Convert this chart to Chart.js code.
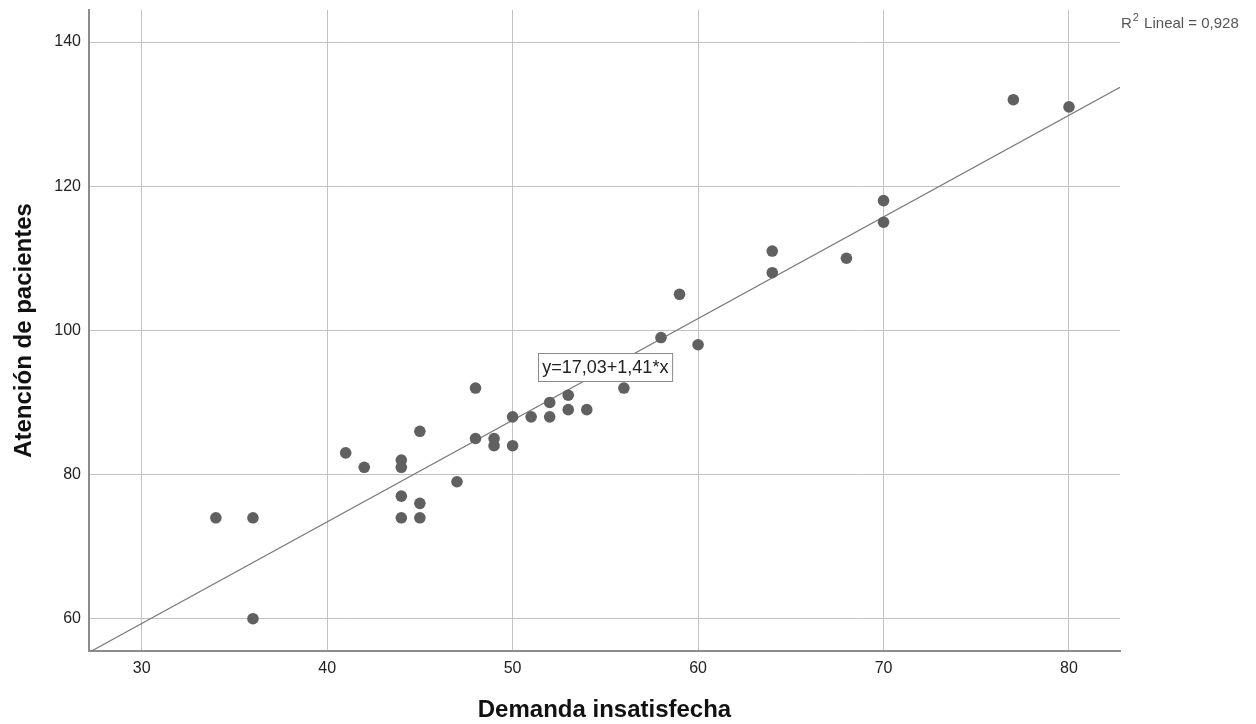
<!DOCTYPE html>
<html>
<head>
<meta charset="utf-8">
<script src="https://cdn.jsdelivr.net/npm/chart.js@4/dist/chart.umd.min.js"></script>
<style>
  html, body { margin: 0; padding: 0; background: #ffffff; }
  #wrap { width: 1256px; height: 724px; position: relative; }
  canvas { display: block; }
</style>
</head>
<body>
<div id="wrap"><canvas id="c" width="1256" height="724"></canvas></div>
<script>
// ---- Data ----
const demanda  = [34,36,36,41,42,44,44,44,44,45,45,45,47,48,48,49,49,50,50,51,52,52,53,53,54,56,58,59,60,64,64,68,70,70,77,80];
const atencion = [74,74,60,83,81,82,81,77,74,86,76,74,79,92,85,85,84,88,84,88,90,88,91,89,89,92,99,105,98,111,108,110,118,115,132,131];
const fitIntercept = 17.03;
const fitSlope = 1.41;
const rSquared = 0.928;
const xTicks = [30,40,50,60,70,80];
const yTicks = [60,80,100,120,140];
const xTitle = 'Demanda insatisfecha';
const yTitle = 'Atención de pacientes';

// axis ranges
const xMin = 27.16, xMax = 82.75;
const yMin = 55.52, yMax = 144.44;

const points = demanda.map((x, i) => ({ x: x, y: atencion[i] }));
const fitLine = [xMin, xMax].map(x => ({ x: x, y: fitIntercept + fitSlope * x }));

const FONT = "'Liberation Sans', Arial, Helvetica, sans-serif";
const fmt = v => v.toFixed(2).replace('.', ',');
const eqText = 'y=' + fmt(fitIntercept) + '+' + fmt(fitSlope) + '*x';
const r2Rest = ' Lineal = ' + rSquared.toFixed(3).replace('.', ',');

const annotations = {
  id: 'annotations',
  afterDraw(chart, args, opts) {
    const ctx = chart.ctx;
    const xs = chart.scales.x, ys = chart.scales.y;
    // equation box
    ctx.save();
    ctx.font = '18px ' + FONT;
    const tw = ctx.measureText(eqText).width;
    const cx = xs.getPixelForValue(opts.eqAt.x);
    const cy = ys.getPixelForValue(opts.eqAt.y);
    const bw = tw + 8, bh = 28;
    const bx = Math.round(cx - bw / 2) + 0.5, by = Math.round(cy - bh / 2) + 0.5;
    ctx.fillStyle = '#ffffff';
    ctx.fillRect(bx, by, bw, bh);
    ctx.strokeStyle = '#8a8a8a';
    ctx.lineWidth = 1;
    ctx.strokeRect(bx, by, bw, bh);
    ctx.fillStyle = '#222222';
    ctx.textAlign = 'center';
    ctx.textBaseline = 'middle';
    ctx.fillText(eqText, cx, by + bh / 2 + 1);
    // R² label with superscript
    ctx.fillStyle = '#555555';
    ctx.textAlign = 'left';
    ctx.textBaseline = 'alphabetic';
    let x0 = chart.chartArea.right + 1;
    const base = 28;
    ctx.font = '15px ' + FONT;
    ctx.fillText('R', x0, base);
    x0 += ctx.measureText('R').width + 1;
    ctx.font = '11px ' + FONT;
    ctx.fillText('2', x0, base - 7);
    x0 += ctx.measureText('2').width + 1;
    ctx.font = '15px ' + FONT;
    ctx.fillText(r2Rest, x0, base);
    ctx.restore();
  }
};

new Chart(document.getElementById('c'), {
  type: 'scatter',
  data: {
    datasets: [
      {
        label: 'Datos',
        data: points,
        pointRadius: 5.8,
        pointHoverRadius: 5.8,
        pointBackgroundColor: '#606060',
        pointBorderWidth: 0,
        showLine: false
      },
      {
        type: 'line',
        label: 'Ajuste',
        data: fitLine,
        borderColor: '#7a7a7a',
        borderWidth: 1.2,
        pointRadius: 0,
        fill: false,
        tension: 0
      }
    ]
  },
  options: {
    responsive: false,
    animation: false,
    devicePixelRatio: 1,
    layout: { padding: { top: 10, right: 136, left: 0, bottom: 0 } },
    plugins: {
      legend: { display: false },
      tooltip: { enabled: false },
      annotations: { eqAt: { x: 55, y: 94.9 } }
    },
    scales: {
      x: {
        type: 'linear',
        min: xMin, max: xMax,
        afterBuildTicks: s => { s.ticks = xTicks.map(v => ({ value: v })); },
        afterFit: s => { s.height = 73; s.paddingLeft = 0; s.paddingRight = 0; },
        ticks: { includeBounds: false, padding: 8, color: '#222', font: { family: FONT, size: 16 } },
        grid: { color: '#c2c2c2', lineWidth: 1, drawTicks: false },
        border: { color: '#8c8c8c', width: 2 },
        title: {
          display: true, text: xTitle, color: '#111',
          font: { family: FONT, size: 24, weight: 'bold', lineHeight: 1.1 },
          padding: { top: 0, bottom: 0 }
        }
      },
      y: {
        type: 'linear',
        min: yMin, max: yMax,
        afterBuildTicks: s => { s.ticks = yTicks.map(v => ({ value: v })); },
        afterFit: s => { s.width = 89; s.paddingTop = 0; s.paddingBottom = 0; },
        ticks: { includeBounds: false, padding: 8, color: '#222', font: { family: FONT, size: 16 } },
        grid: { color: '#c2c2c2', lineWidth: 1, drawTicks: false },
        border: { color: '#8c8c8c', width: 2 },
        title: {
          display: true, text: yTitle, color: '#111',
          font: { family: FONT, size: 24, weight: 'bold', lineHeight: 1.1 },
          padding: { top: 11, bottom: 0 }
        }
      }
    }
  },
  plugins: [annotations]
});
</script>
</body>
</html>
